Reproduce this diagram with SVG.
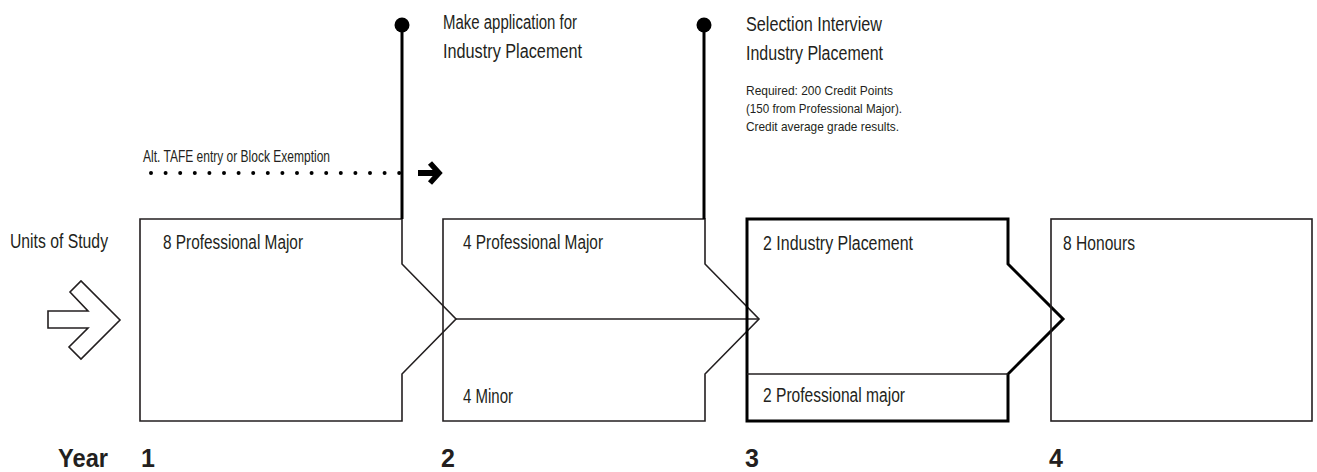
<svg xmlns="http://www.w3.org/2000/svg" width="1317" height="472" viewBox="0 0 1317 472">
<style>
  .t { font-family: "Liberation Sans", Arial, sans-serif; font-size: 19.5px; fill: #231f20; }
  .s { font-family: "Liberation Sans", Arial, sans-serif; font-size: 13.5px; fill: #231f20; }
  .a { font-family: "Liberation Sans", Arial, sans-serif; font-size: 16px; fill: #231f20; }
  .y { font-family: "Liberation Sans", Arial, sans-serif; font-size: 25px; font-weight: bold; fill: #231f20; }
  .box { fill: none; stroke: #231f20; stroke-width: 1.6; stroke-linejoin: miter; }
  .boxb { fill: none; stroke: #000; stroke-width: 3; stroke-linejoin: miter; }
  .thin { fill: none; stroke: #231f20; stroke-width: 1.6; }
  .pin { fill: none; stroke: #000; stroke-width: 3; }
</style>
<rect width="1317" height="472" fill="#ffffff"/>

<g id="units">
  <text class="t" x="10" y="248" textLength="98" lengthAdjust="spacingAndGlyphs">Units of Study</text>
  <polygon class="box" points="48,311 88,311 70,292 81,281 120,320 81,359 69,347 88,328 48,328"/>
</g>

<g id="box1">
  <path class="box" d="M402,219 H140 V421 H402 V374 L456,319 L402,264 Z"/>
  <text class="t" x="163" y="249" textLength="140" lengthAdjust="spacingAndGlyphs">8 Professional Major</text>
</g>

<g id="box2">
  <path class="box" d="M705,219 H443 V421 H705 V374 L759,319 L705,264 Z"/>
  <path class="thin" d="M456,319 H759"/>
  <text class="t" x="463" y="249" textLength="140" lengthAdjust="spacingAndGlyphs">4 Professional Major</text>
  <text class="t" x="463" y="403" textLength="50" lengthAdjust="spacingAndGlyphs">4 Minor</text>
</g>

<g id="box3">
  <path class="boxb" d="M1008,219 H747 V421 H1008 V374 L1063,319 L1008,264 Z"/>
  <path class="thin" d="M747,374 H1008"/>
  <text class="t" x="763" y="250" textLength="150" lengthAdjust="spacingAndGlyphs">2 Industry Placement</text>
  <text class="t" x="763" y="402" textLength="142" lengthAdjust="spacingAndGlyphs">2 Professional major</text>
</g>

<g id="box4">
  <rect class="box" x="1051" y="219" width="261" height="202"/>
  <text class="t" x="1063" y="250" textLength="72" lengthAdjust="spacingAndGlyphs">8 Honours</text>
</g>

<g id="connectors">
  <line x1="151" y1="173" x2="402" y2="173" stroke="#000" stroke-width="4" stroke-linecap="round" stroke-dasharray="0 14.6"/>
  <path d="M418,173 H436" stroke="#000" stroke-width="6" fill="none"/>
  <polyline points="430,163 439,173 430,183" stroke="#000" stroke-width="5.5" fill="none" stroke-linejoin="miter"/>
  <line class="pin" x1="402" y1="25" x2="402" y2="219"/>
  <circle cx="402" cy="25" r="7.5" fill="#000"/>
  <line class="pin" x1="704" y1="25" x2="704" y2="219"/>
  <circle cx="704" cy="25" r="7.5" fill="#000"/>
</g>

<g id="labels">
  <text class="a" x="143" y="162" textLength="187" lengthAdjust="spacingAndGlyphs">Alt. TAFE entry or Block Exemption</text>
  <text class="t" x="443" y="29" textLength="134" lengthAdjust="spacingAndGlyphs">Make application for</text>
  <text class="t" x="443" y="58" textLength="139" lengthAdjust="spacingAndGlyphs">Industry Placement</text>
  <text class="t" x="746" y="31" textLength="136" lengthAdjust="spacingAndGlyphs">Selection Interview</text>
  <text class="t" x="746" y="60" textLength="137" lengthAdjust="spacingAndGlyphs">Industry Placement</text>
  <text class="s" x="746" y="95" textLength="147" lengthAdjust="spacingAndGlyphs">Required: 200 Credit Points</text>
  <text class="s" x="746" y="113" textLength="156" lengthAdjust="spacingAndGlyphs">(150 from Professional Major).</text>
  <text class="s" x="746" y="131" textLength="153" lengthAdjust="spacingAndGlyphs">Credit average grade results.</text>
</g>

<g id="years">
  <text class="y" x="58" y="467" textLength="50" lengthAdjust="spacingAndGlyphs">Year</text>
  <text class="y" x="141" y="467">1</text>
  <text class="y" x="441" y="467">2</text>
  <text class="y" x="745" y="467">3</text>
  <text class="y" x="1049" y="467">4</text>
</g>
</svg>
